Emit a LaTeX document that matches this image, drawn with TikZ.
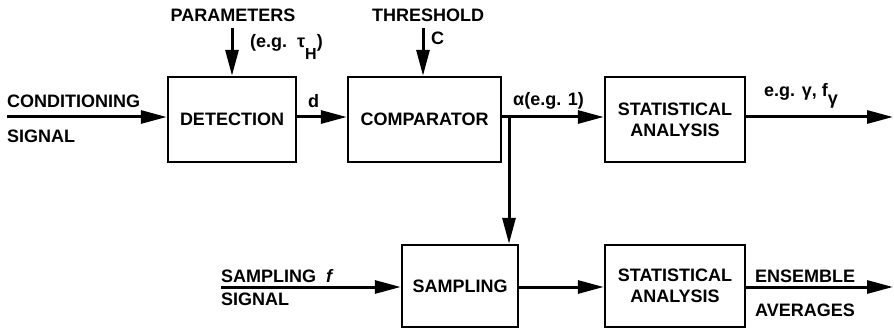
\documentclass[tikz,border=0pt]{standalone}
\usepackage{fontspec}
\setmainfont{Liberation Sans}
\usetikzlibrary{arrows.meta}
\newcommand{\lblfont}{\fontsize{18}{21}\selectfont\bfseries}
\begin{document}
\begin{tikzpicture}[x=1pt,y=-1pt,
  box/.style={draw,line width=2.4pt,inner sep=0pt,align=center,font=\lblfont},
  arr/.style={line width=3pt,-{Triangle[length=26pt,width=13pt]}},
  ln/.style={line width=3pt},
  lab/.style={inner sep=0pt,font=\lblfont}]
\useasboundingbox (0,0) rectangle (894,331);
\node[box,minimum width=128pt,minimum height=85pt] (det) at (232,119.5) {DETECTION};
\node[box,minimum width=153pt,minimum height=85pt] (comp) at (424.5,119.5) {COMPARATOR};
\node[box,minimum width=140pt,minimum height=85pt] (st1) at (675,119.5) {STATISTICAL\\ANALYSIS};
\node[box,minimum width=116pt,minimum height=82pt] (samp) at (460,286) {SAMPLING};
\node[box,minimum width=140pt,minimum height=82pt] (st2) at (675,286) {STATISTICAL\\ANALYSIS};
\coordinate (cin) at (7,117);
\coordinate (pin) at (232,28);
\coordinate (tin) at (423,28);
\coordinate (br) at (509,117);
\coordinate (out1) at (893,117);
\coordinate (sin) at (221,287);
\coordinate (out2) at (893,287);
\draw[arr] (cin) -- (cin -| det.west);
\draw[arr] (det.east |- cin) -- (comp.west |- cin);
\draw[ln] (comp.east |- br) -- (br);
\draw[arr] (br) -- (st1.west |- br);
\draw[arr] (br) -- (br |- samp.north);
\draw[arr] (st1.east |- out1) -- (out1);
\draw[arr] (pin) -- (pin |- det.north);
\draw[arr] (tin) -- (tin |- comp.north);
\draw[arr] (sin) -- (sin -| samp.west);
\draw[arr] (samp.east |- sin) -- (st2.west |- sin);
\draw[arr] (st2.east |- out2) -- (out2);
\node[lab,anchor=base] (par) at (233,22) {PARAMETERS};
\node[lab,anchor=base west] (thr) at (372,22) {THRESHOLD};
\node[lab,anchor=base west] (cc) at (431,45) {C};
\node[lab,anchor=base west] (eg) at (250,48) {(e.g.\ \ τ\raisebox{-12pt}{\fontsize{16}{16}\selectfont H})};
\node[lab,anchor=base west] (cs1) at (7,108) {CONDITIONING};
\node[lab,anchor=base west] (cs2) at (7,143) {SIGNAL};
\node[lab,anchor=base west] (dl) at (308,108) {d};
\node[lab,anchor=base west] (al) at (513,106) {α(e.g. 1)};
\node[lab,anchor=base west] (gl) at (764,97) {e.g. γ, f\raisebox{-8pt}{γ}};
\node[lab,anchor=base west] (sf) at (221,282) {SAMPLING\ \ {\itshape f}};
\node[lab,anchor=base west] (sg) at (221,305) {SIGNAL};
\node[lab,anchor=base west] (en) at (755,282) {ENSEMBLE};
\node[lab,anchor=base west] (av) at (755,316) {AVERAGES};
\end{tikzpicture}
\end{document}
